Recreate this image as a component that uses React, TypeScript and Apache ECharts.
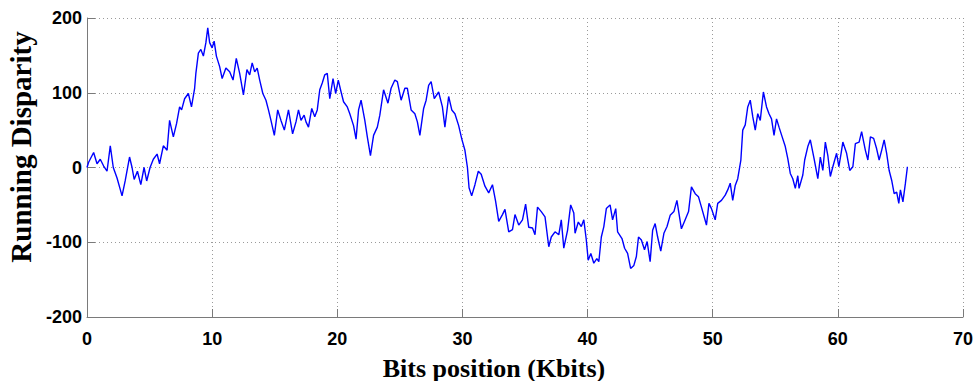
import React, { useEffect, useRef } from "react";
import * as echarts from "echarts";

// Bit position along the sequence, in Kbits
const positionKbits: number[] = [
  0, 0.13, 0.53, 0.8, 1.06, 1.33, 1.6, 1.86, 2.1, 2.4, 2.65, 2.8, 3.05, 3.4, 3.6, 3.77, 4.03, 4.3, 4.56, 4.77,
  5.04, 5.3, 5.6, 5.8, 6.1, 6.4, 6.6, 6.9, 7.16, 7.4, 7.56, 7.8, 8.1, 8.35, 8.6, 8.7, 8.9, 9.1, 9.3, 9.5,
  9.65, 9.8, 10.0, 10.16, 10.34, 10.6, 10.8, 11.1, 11.4, 11.67, 11.93, 12.2, 12.5, 12.78, 13.0, 13.2, 13.4, 13.6, 13.8, 14.05,
  14.3, 14.5, 14.7, 14.97, 15.24, 15.5, 15.77, 16.1, 16.43, 16.7, 16.9, 17.1, 17.35, 17.5, 17.7, 17.96, 18.2, 18.4, 18.6, 18.8,
  19.0, 19.2, 19.4, 19.66, 19.87, 20.08, 20.26, 20.5, 20.8, 21.0, 21.3, 21.5, 21.7, 21.9, 22.2, 22.4, 22.65, 22.9, 23.2, 23.4,
  23.7, 24.05, 24.3, 24.6, 24.8, 25.1, 25.4, 25.6, 25.9, 26.2, 26.4, 26.6, 26.9, 27.1, 27.3, 27.5, 27.75, 28.1, 28.4, 28.6,
  28.9, 29.15, 29.4, 29.7, 29.95, 30.2, 30.4, 30.53, 30.74, 31.0, 31.27, 31.5, 31.8, 32.1, 32.4, 32.65, 32.9, 33.2, 33.4, 33.7,
  34.0, 34.2, 34.5, 34.8, 35.05, 35.3, 35.6, 35.8, 36.0, 36.3, 36.6, 36.9, 37.1, 37.4, 37.7, 37.9, 38.1, 38.4, 38.65, 38.9,
  39.0, 39.26, 39.5, 39.7, 39.9, 40.05, 40.26, 40.5, 40.74, 40.9, 41.1, 41.3, 41.5, 41.8, 42.0, 42.25, 42.4, 42.75, 42.96, 43.2,
  43.44, 43.7, 43.9, 44.07, 44.3, 44.55, 44.76, 45.0, 45.2, 45.4, 45.6, 45.85, 46.1, 46.35, 46.6, 46.9, 47.14, 47.3, 47.5, 47.8,
  48.07, 48.3, 48.6, 48.86, 49.1, 49.5, 49.7, 49.9, 50.2, 50.4, 50.7, 51.0, 51.2, 51.4, 51.6, 51.8, 52.0, 52.25, 52.4, 52.6,
  52.8, 53.0, 53.2, 53.4, 53.6, 53.8, 54.05, 54.3, 54.5, 54.7, 54.9, 55.1, 55.3, 55.55, 55.8, 56.0, 56.2, 56.4, 56.6, 56.8,
  56.9, 57.2, 57.35, 57.6, 57.8, 58.1, 58.4, 58.6, 58.8, 59.0, 59.2, 59.4, 59.6, 59.9, 60.08, 60.26, 60.4, 60.7, 60.95, 61.2,
  61.4, 61.7, 61.9, 62.2, 62.4, 62.6, 62.86, 63.1, 63.3, 63.5, 63.7, 63.9, 64.1, 64.3, 64.5, 64.7, 64.87, 65.0, 65.2, 65.4,
  65.56,
];

// Running disparity at each position
const runningDisparity: number[] = [
  0, 7, 20, 5, 11, 2, -5, 29, 0, -14, -29, -38, -18, 14, 0, -16, -5, -23, 0, -18,
  0, 11, 18, 5, 29, 23, 63, 41, 59, 81, 77, 92, 99, 81, 106, 126, 153, 158, 149, 167,
  187, 167, 160, 169, 149, 135, 119, 133, 128, 117, 146, 126, 97, 131, 124, 140, 128, 133, 117, 99,
  90, 77, 63, 43, 77, 63, 50, 77, 45, 61, 77, 63, 70, 61, 54, 79, 68, 77, 104, 113,
  124, 126, 92, 119, 99, 117, 104, 88, 81, 72, 56, 38, 77, 90, 63, 41, 16, 43, 54, 70,
  104, 86, 106, 117, 115, 90, 106, 106, 77, 72, 61, 43, 79, 90, 110, 115, 92, 101, 81, 54,
  95, 77, 72, 56, 38, 23, 0, -27, -38, -23, -5, -9, -25, -34, -23, -45, -72, -63, -56, -86,
  -83, -63, -77, -70, -49, -80, -81, -90, -53, -59, -66, -106, -93, -86, -90, -70, -108, -84, -50, -61,
  -88, -73, -79, -70, -97, -124, -115, -128, -122, -126, -93, -79, -55, -50, -70, -55, -86, -95, -108, -115,
  -135, -131, -119, -93, -97, -110, -99, -126, -84, -75, -93, -112, -88, -79, -64, -59, -44, -61, -82, -70,
  -59, -26, -35, -39, -53, -77, -48, -55, -70, -48, -44, -37, -30, -21, -44, -24, -15, 10, 50, 57,
  81, 90, 68, 50, 72, 63, 101, 81, 72, 65, 43, 65, 54, 41, 28, 12, -8, -15, -28, -11,
  -28, -10, 10, 28, 37, 12, -15, 14, -4, 34, 16, -12, 1, 19, 1, 19, 34, 19, -4, 1,
  32, 34, 48, 23, 10, 41, 39, 25, 10, 23, 37, 19, -4, -17, -35, -33, -48, -30, -46, -21,
  1,
];

const xTicks = { min: 0, max: 70, interval: 10 };
const yTicks = { min: -200, max: 200, interval: 100 };

const xTitle = "Bits position (Kbits)";
const yTitle = "Running Disparity";

export default function App() {
  const ref = useRef<HTMLDivElement>(null);

  useEffect(() => {
    if (!ref.current) return;
    const chart = echarts.init(ref.current, null, { renderer: "svg" });

    const points = positionKbits.map((x, i) => [x, runningDisparity[i]]);

    const tickLabel = {
      color: "#000",
      fontFamily: "Liberation Sans, Arial, sans-serif",
      fontWeight: "bold" as const,
      fontSize: 18,
    };
    const dotted = { show: true, lineStyle: { color: "#9a9a9a", type: [1, 3] as any, width: 1 } };

    chart.setOption({
      animation: false,
      backgroundColor: "#fff",
      grid: { left: 87, top: 18, width: 879, height: 299, containLabel: false },
      xAxis: {
        type: "value",
        min: xTicks.min,
        max: xTicks.max,
        interval: xTicks.interval,
        axisLine: { show: true, onZero: false, lineStyle: { color: "#7a7a7a", width: 1 } },
        axisTick: { show: true, inside: true, length: 8, lineStyle: { color: "#7a7a7a" } },
        axisLabel: { ...tickLabel, margin: 13 },
        splitLine: dotted,
      },
      yAxis: {
        type: "value",
        min: yTicks.min,
        max: yTicks.max,
        interval: yTicks.interval,
        axisLine: { show: true, onZero: false, lineStyle: { color: "#7a7a7a", width: 1 } },
        axisTick: { show: true, inside: true, length: 8, lineStyle: { color: "#7a7a7a" } },
        axisLabel: { ...tickLabel, margin: 5 },
        splitLine: dotted,
      },
      series: [
        {
          type: "line",
          data: points,
          showSymbol: false,
          symbol: "none",
          lineStyle: { color: "#0000ff", width: 1.4 },
          silent: true,
        },
      ],
      graphic: [
        {
          type: "text",
          x: 494,
          y: 368,
          style: {
            text: xTitle,
            fill: "#000",
            font: "bold 26px 'Liberation Serif', 'Times New Roman', serif",
            textAlign: "center",
            textVerticalAlign: "middle",
          },
        },
        {
          type: "text",
          x: 21,
          y: 147,
          rotation: Math.PI / 2,
          style: {
            text: yTitle,
            fill: "#000",
            font: "bold 29px 'Liberation Serif', 'Times New Roman', serif",
            textAlign: "center",
            textVerticalAlign: "middle",
          },
        },
      ],
    });

    return () => chart.dispose();
  }, []);

  return (
    <div
      ref={ref}
      style={{ position: "fixed", left: 0, top: 0, width: 976, height: 381 }}
    />
  );
}
